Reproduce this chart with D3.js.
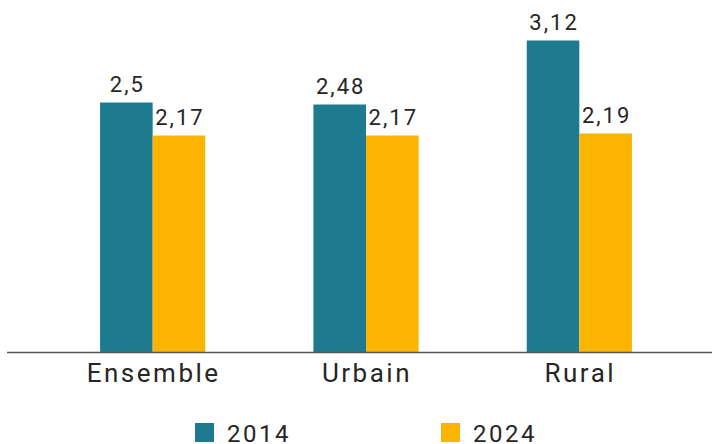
<!DOCTYPE html>
<html>
<head>
<meta charset="utf-8">
<script src="https://cdn.jsdelivr.net/npm/d3@7"></script>
<style>
  body { margin: 0; background: #fff; }
  text { font-family: Roboto, "DejaVu Sans", sans-serif; fill: #262626; }
</style>
</head>
<body>
<svg></svg>
<script>
// Taille du graphique
const width = 712;
const height = 444;

// Données
const categories = ["Ensemble", "Urbain", "Rural"];
const years = ["2014", "2024"];
const values2014 = [2.5, 2.48, 3.12];
const values2024 = [2.17, 2.17, 2.19];
const colors = ["#1E7B8F", "#FBB400"];

const rows = categories.map((c, i) => ({ cat: c, vals: [values2014[i], values2024[i]] }));

const svg = d3.select("svg")
    .attr("width", width)
    .attr("height", height);

const baseline = 352.5;

// Echelles
const x = d3.scaleBand()
    .domain(categories)
    .range([46, 686])
    .paddingInner(0.507)
    .paddingOuter(0.2535);

const xSub = d3.scaleBand()
    .domain(years)
    .range([0, x.bandwidth()]);

const y = d3.scaleLinear()
    .domain([0, 3.5])
    .range([baseline, baseline - 350]);

const fmt = v => String(v).replace(".", ",");

// Barres
const groups = svg.selectAll(".group")
    .data(rows)
    .enter()
    .append("g")
    .attr("class", "group")
    .attr("transform", d => `translate(${x(d.cat)},0)`);

groups.selectAll("rect")
    .data(d => d.vals.map((v, j) => ({ year: years[j], v, j })))
    .enter()
    .append("rect")
    .attr("x", d => xSub(d.year))
    .attr("y", d => y(d.v))
    .attr("width", xSub.bandwidth())
    .attr("height", d => baseline - y(d.v))
    .attr("fill", d => colors[d.j]);

// Etiquettes de valeurs
groups.selectAll(".val")
    .data(d => d.vals.map((v, j) => ({ year: years[j], v, j })))
    .enter()
    .append("text")
    .attr("class", "val")
    .attr("x", d => xSub(d.year) + xSub.bandwidth() / 2 + 1)
    .attr("y", d => y(d.v) - 10.5)
    .attr("text-anchor", "middle")
    .style("font-size", "22px")
    .style("letter-spacing", "2px")
    .text(d => fmt(d.v));

// Axe horizontal
svg.append("line")
    .attr("x1", 7)
    .attr("x2", 712)
    .attr("y1", baseline)
    .attr("y2", baseline)
    .attr("stroke", "#595959")
    .attr("stroke-width", 1.3);

svg.selectAll(".cat")
    .data(categories)
    .enter()
    .append("text")
    .attr("class", "cat")
    .attr("x", d => x(d) + x.bandwidth() / 2 + 1)
    .attr("y", 382)
    .attr("text-anchor", "middle")
    .style("font-size", "26px")
    .style("letter-spacing", "2.5px")
    .text(d => d);

// Légende
const legendX = [195, 441];
const legend = svg.selectAll(".legend")
    .data(years)
    .enter()
    .append("g")
    .attr("class", "legend")
    .attr("transform", (d, i) => `translate(${legendX[i]},423)`);

legend.append("rect")
    .attr("width", 19)
    .attr("height", 19)
    .attr("fill", (d, i) => colors[i]);

legend.append("text")
    .attr("x", 32)
    .attr("y", 19)
    .style("font-size", "24px")
    .style("letter-spacing", "2.5px")
    .text(d => d);
</script>
</body>
</html>
